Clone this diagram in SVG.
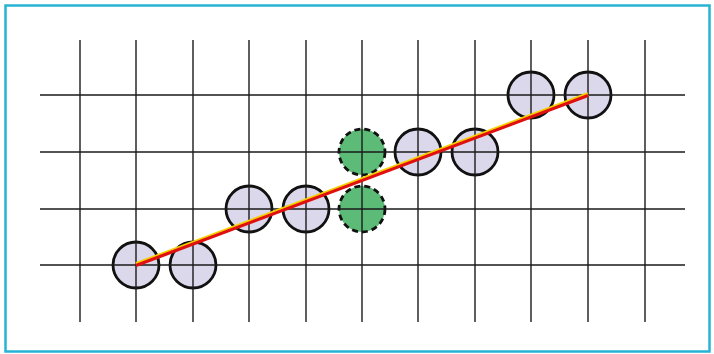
<svg xmlns="http://www.w3.org/2000/svg" width="714" height="354" viewBox="0 0 714 354">
<style>
.grid line{stroke:#1a1a1a;stroke-width:1.4}
.px{fill:#dcd8ec;stroke:#111;stroke-width:2.8}
.gp{fill:#5dbb78;stroke:#111;stroke-width:2.8;stroke-dasharray:6 4}
</style>
<rect x="0" y="0" width="714" height="354" fill="#fff"/>
<rect x="5.5" y="5.5" width="704" height="346" fill="none" stroke="#27b4d4" stroke-width="2.5"/>
<g id="p1"><circle class="px" cx="136" cy="265" r="23"/></g>
<g id="p2"><circle class="px" cx="193" cy="265" r="23"/></g>
<g id="p3"><circle class="px" cx="249" cy="209" r="23"/></g>
<g id="p4"><circle class="px" cx="306" cy="209" r="23"/></g>
<g id="g1"><circle class="gp" cx="362" cy="152" r="23"/></g>
<g id="g2"><circle class="gp" cx="362" cy="209" r="23"/></g>
<g id="p5"><circle class="px" cx="418" cy="152" r="23"/></g>
<g id="p6"><circle class="px" cx="475" cy="152" r="23"/></g>
<g id="p7"><circle class="px" cx="531" cy="95" r="23"/></g>
<g id="p8"><circle class="px" cx="588" cy="95" r="23"/></g>
<g class="grid">
<line x1="80" y1="40" x2="80" y2="322"/>
<line x1="136" y1="40" x2="136" y2="322"/>
<line x1="193" y1="40" x2="193" y2="322"/>
<line x1="249" y1="40" x2="249" y2="322"/>
<line x1="306" y1="40" x2="306" y2="322"/>
<line x1="362" y1="40" x2="362" y2="322"/>
<line x1="418" y1="40" x2="418" y2="322"/>
<line x1="475" y1="40" x2="475" y2="322"/>
<line x1="531" y1="40" x2="531" y2="322"/>
<line x1="588" y1="40" x2="588" y2="322"/>
<line x1="645" y1="40" x2="645" y2="322"/>
<line x1="40" y1="95" x2="685" y2="95"/>
<line x1="40" y1="152" x2="685" y2="152"/>
<line x1="40" y1="209" x2="685" y2="209"/>
<line x1="40" y1="265" x2="685" y2="265"/>
</g>
<g id="connectors">
<line x1="136" y1="264" x2="588" y2="94" stroke="#f5d000" stroke-width="3.5"/>
<line x1="136" y1="265.5" x2="588" y2="95.5" stroke="#e01010" stroke-width="3.2"/>
</g>
</svg>
